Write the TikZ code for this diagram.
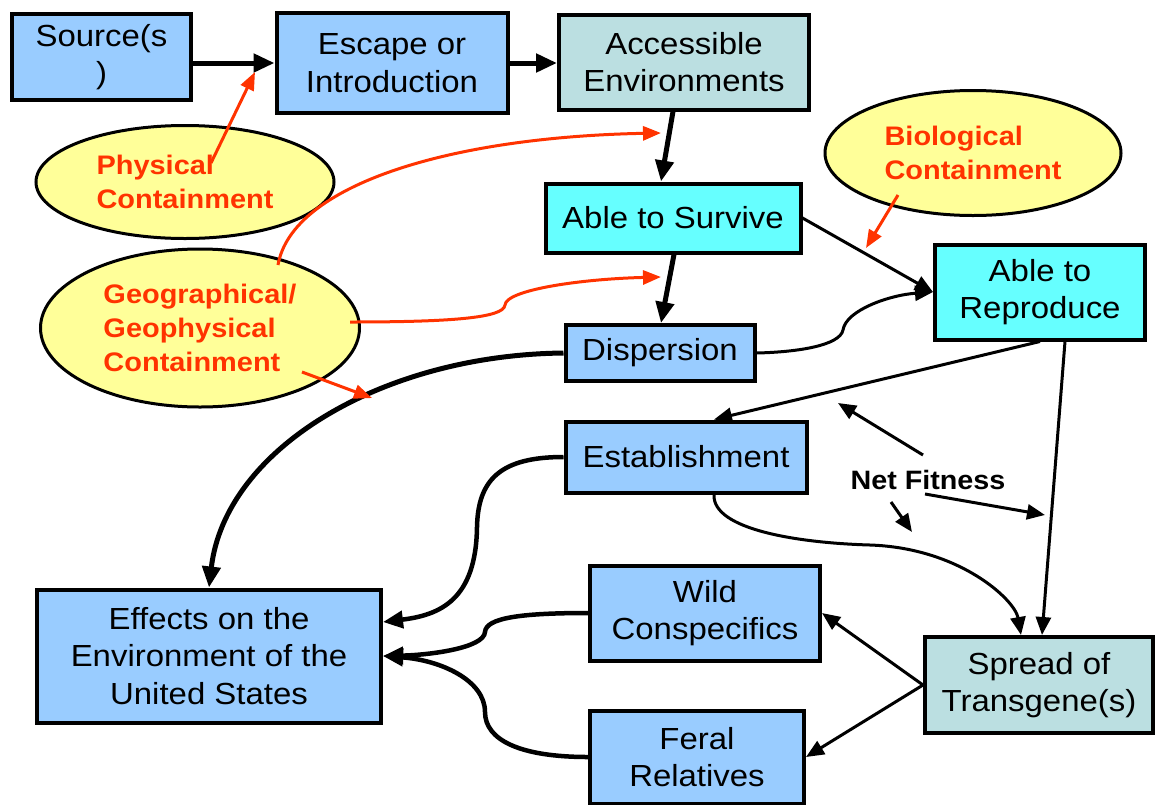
\documentclass[tikz,border=0pt]{standalone}
\usepackage{fontspec}
\setmainfont{Liberation Sans}[FakeStretch=1.08]
\usetikzlibrary{arrows.meta,shapes.geometric}
\definecolor{boxblue}{HTML}{99CCFF}
\definecolor{boxteal}{HTML}{BBDFE1}
\definecolor{boxcyan}{HTML}{66FFFF}
\definecolor{contyellow}{HTML}{FFFF99}
\definecolor{contred}{HTML}{FF3300}
\newcommand{\boxtext}{\fontsize{30.5}{37.5}\selectfont}
\newcommand{\conttext}{\bfseries\fontsize{26.8}{33.8}\selectfont}
\tikzset{
  box/.style={draw, line width=4pt, inner sep=0pt, align=center, font=\boxtext},
  cont/.style={ellipse, draw, line width=3pt, fill=contyellow, inner sep=0pt,
    align=left, text=contred, font=\conttext},
  bigarr/.style={line width=5pt, -{Triangle[length=21pt,width=18pt]}},
  arr/.style={line width=3pt, -{Triangle[length=18pt,width=15pt]}},
  redarr/.style={contred, line width=3pt, -{Triangle[length=18pt,width=14pt]}},
}
\begin{document}
\begin{tikzpicture}[x=1pt,y=-1pt]
   \useasboundingbox (0,0) rectangle (1157,804);
   % containment ellipses
   \node[cont,minimum width=298pt,minimum height=113pt] (phys) at (185,182) {Physical\\Containment};
   \node[cont,minimum width=319pt,minimum height=158pt] (geo) at (200,328) {Geographical/\\Geophysical\\Containment};
   \node[cont,minimum width=296pt,minimum height=125pt] (bio) at (973,153) {Biological\\Containment};
   % boxes
   \node[box,fill=boxblue,minimum width=179pt,minimum height=86pt] (src) at (101.5,57) {Source(s\\)};
   \node[box,fill=boxblue,minimum width=231pt,minimum height=100pt] (esc) at (392,63) {Escape or\\Introduction};
   \node[box,fill=boxteal,minimum width=250pt,minimum height=95pt] (acc) at (684,62) {Accessible\\Environments};
   \node[box,fill=boxcyan,minimum width=255pt,minimum height=69pt] (surv) at (673,218) {Able to Survive};
   \node[box,fill=boxcyan,minimum width=210pt,minimum height=95pt] (repr) at (1040,292) {Able to\\Reproduce};
   \node[box,fill=boxblue,minimum width=189pt,minimum height=56pt] (disp) at (660,353) {Dispersion};
   \node[box,fill=boxblue,minimum width=241pt,minimum height=71pt] (est) at (686,457) {Establishment};
   \node[box,fill=boxblue,minimum width=230pt,minimum height=95pt] (wild) at (705,613) {Wild\\Conspecifics};
   \node[box,fill=boxblue,minimum width=214pt,minimum height=93pt] (feral) at (697,757) {Feral\\Relatives};
   \node[box,fill=boxblue,minimum width=344pt,minimum height=133pt] (eff) at (209,656) {Effects on the\\Environment of the\\United States};
   \node[box,fill=boxteal,minimum width=228pt,minimum height=96pt] (spread) at (1039,685) {Spread of\\Transgene(s)};
   \node[font=\bfseries\fontsize{26.6}{30}\selectfont] (nf) at (928,480) {Net Fitness};
   % main chain
   \draw[bigarr] (src.east |- esc.west) -- (esc.west);
   \draw[bigarr] (esc.east) -- (acc.west |- esc.east);
   \draw[bigarr] ([xshift=-11pt]acc.south) -- ([xshift=-12pt]surv.north);
   \draw[bigarr] ([xshift=1pt]surv.south) -- ([xshift=1pt]disp.north);
   \draw[arr] (surv.east) -- (repr.west);
   \draw[arr] (disp.east) .. controls (800,352) and (840,345) .. (843,330)
     .. controls (846,310) and (890,295) .. (repr.west);
   \draw[bigarr] (disp.west) .. controls (380,355) and (225,450) .. (eff.north);
   \draw[arr] (repr.south) -- ([xshift=28pt]est.north);
   \draw[arr] ([xshift=25pt]repr.south) -- ([xshift=3pt]spread.north);
   \draw[arr] ([xshift=28pt]est.south) .. controls (712,530) and (800,543) .. (870,545)
     .. controls (960,548) and (1015,600) .. ([xshift=-18pt]spread.north);
   \draw[line width=4.5pt,-{Triangle[length=20pt,width=17pt]}] (est.west)
     .. controls (500,457) and (478,480) .. (477,527)
     .. controls (476,600) and (440,615) .. ([yshift=34pt]eff.east);
   \draw[line width=4.5pt,-{Triangle[length=20pt,width=17pt]}] (wild.west)
     .. controls (520,613) and (486,618) .. (485,632)
     .. controls (484,648) and (430,655) .. (eff.east);
   \draw[line width=4.5pt,-{Triangle[length=20pt,width=17pt]}] (feral.west)
     .. controls (520,757) and (485,740) .. (485,712)
     .. controls (485,680) and (440,660) .. (eff.east);
   \draw[arr] (spread.west) -- (wild.east);
   \draw[arr] (spread.west) -- (feral.east);
   % net fitness pointers
   \coordinate (nfa) at (838,403);
   \coordinate (nfb) at (912,532);
   \coordinate (nfc) at (1045,515);
   \draw[arr] ([shift={(-5pt,25pt)}]nf.center) -- (nfa);
   \draw[arr] ([shift={(-37pt,-22pt)}]nf.center) -- (nfb);
   \draw[arr] ([shift={(-3pt,-14pt)}]nf.center) -- (nfc);
   % containment pointers
   \coordinate (pc) at (255,72);
   \coordinate (ga) at (661,133);
   \coordinate (gb) at (661,277);
   \coordinate (gc) at (372,398);
   \coordinate (bc) at (866,248);
   \draw[redarr] ([shift={(26pt,19pt)}]phys.center) -- (pc);
   \draw[redarr] ([shift={(78pt,63pt)}]geo.center) .. controls (292,185) and (450,137) .. (ga);
   \draw[redarr] ([shift={(150pt,6pt)}]geo.center) .. controls (450,322) and (504,318) .. (505,305)
     .. controls (506,290) and (580,279) .. (gb);
   \draw[redarr] ([shift={(102pt,-44pt)}]geo.center) -- (gc);
   \draw[redarr] ([shift={(-75pt,-42pt)}]bio.center) -- (bc);
\end{tikzpicture}
\end{document}
